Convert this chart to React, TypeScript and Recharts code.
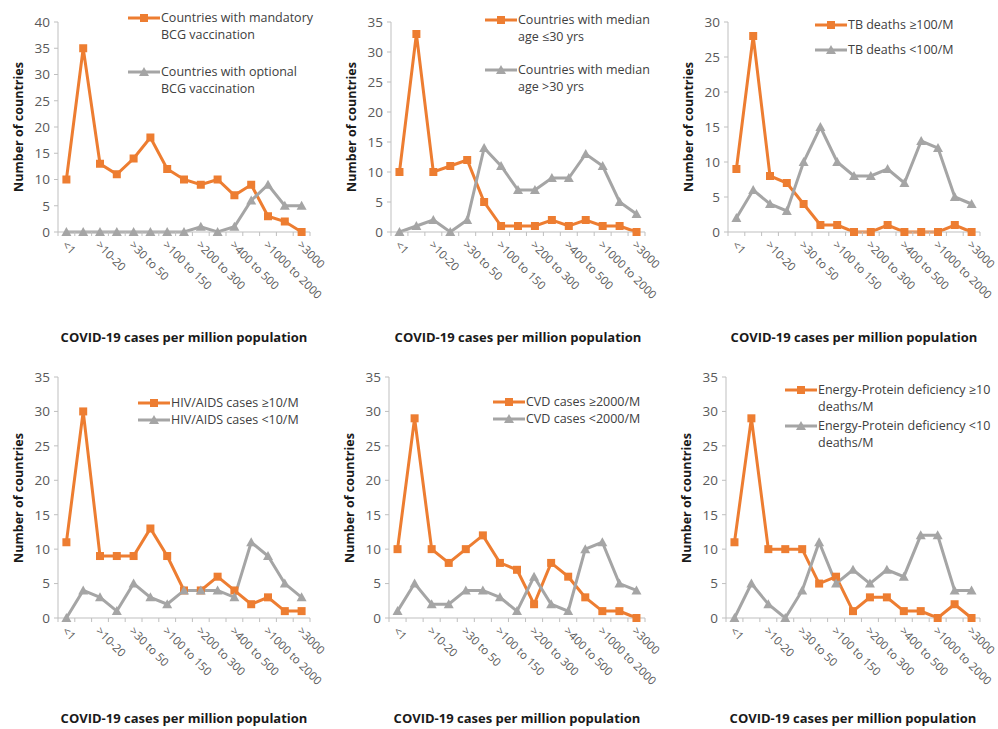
import { LineChart, Line, XAxis, YAxis } from "recharts";

const categories = [
  "<1", "1-10", ">10-20", ">20-30", ">30 to 50", ">50 to 100", ">100 to 150",
  ">150 to 200", ">200 to 300", ">300 to 400", ">400 to 500", ">500 to 1000",
  ">1000 to 2000", ">2000 to 3000", ">3000",
];

const bcgMandatory = [10, 35, 13, 11, 14, 18, 12, 10, 9, 10, 7, 9, 3, 2, 0];
const bcgOptional = [0, 0, 0, 0, 0, 0, 0, 0, 1, 0, 1, 6, 9, 5, 5];
const ageUnder30 = [10, 33, 10, 11, 12, 5, 1, 1, 1, 2, 1, 2, 1, 1, 0];
const ageOver30 = [0, 1, 2, 0, 2, 14, 11, 7, 7, 9, 9, 13, 11, 5, 3];
const tbHigh = [9, 28, 8, 7, 4, 1, 1, 0, 0, 1, 0, 0, 0, 1, 0];
const tbLow = [2, 6, 4, 3, 10, 15, 10, 8, 8, 9, 7, 13, 12, 5, 4];
const hivHigh = [11, 30, 9, 9, 9, 13, 9, 4, 4, 6, 4, 2, 3, 1, 1];
const hivLow = [0, 4, 3, 1, 5, 3, 2, 4, 4, 4, 3, 11, 9, 5, 3];
const cvdHigh = [10, 29, 10, 8, 10, 12, 8, 7, 2, 8, 6, 3, 1, 1, 0];
const cvdLow = [1, 5, 2, 2, 4, 4, 3, 1, 6, 2, 1, 10, 11, 5, 4];
const epdHigh = [11, 29, 10, 10, 10, 5, 6, 1, 3, 3, 1, 1, 0, 2, 0];
const epdLow = [0, 5, 2, 0, 4, 11, 5, 7, 5, 7, 6, 12, 12, 4, 4];

const ticks40 = [0, 5, 10, 15, 20, 25, 30, 35, 40];
const ticks35 = [0, 5, 10, 15, 20, 25, 30, 35];
const ticks30 = [0, 5, 10, 15, 20, 25, 30];

const ORANGE = "#ED7D31";
const GRAY = "#A5A5A5";
const AXIS = "#BFBFBF";
const FONT = "'Open Sans', sans-serif";
const X_TITLE = "COVID-19 cases per million population";
const Y_TITLE = "Number of countries";

type LegendItem = { y: number; lines: string[] };
type PanelCfg = {
  high: number[];
  low: number[];
  yMax: number;
  yTicks: number[];
  plotLeft: number;
  plotRight: number;
  plotTop: number;
  plotBottom: number;
  titleGap: number;
  legendX: number;
  legend: LegendItem[];
};

const panels: PanelCfg[] = [
  {
    high: bcgMandatory, low: bcgOptional, yMax: 40, yTicks: ticks40,
    plotLeft: 58, plotRight: 310, plotTop: 22, plotBottom: 232, titleGap: 105,
    legendX: 128,
    legend: [
      { y: 18, lines: ["Countries with mandatory", "BCG vaccination"] },
      { y: 72, lines: ["Countries with optional", "BCG vaccination"] },
    ],
  },
  {
    high: ageUnder30, low: ageOver30, yMax: 35, yTicks: ticks35,
    plotLeft: 391, plotRight: 645, plotTop: 22, plotBottom: 232, titleGap: 105,
    legendX: 485,
    legend: [
      { y: 20, lines: ["Countries with median", "age ≤30 yrs"] },
      { y: 70, lines: ["Countries with median", "age >30 yrs"] },
    ],
  },
  {
    high: tbHigh, low: tbLow, yMax: 30, yTicks: ticks30,
    plotLeft: 728, plotRight: 980, plotTop: 22, plotBottom: 232, titleGap: 105,
    legendX: 815,
    legend: [
      { y: 25, lines: ["TB deaths ≥100/M"] },
      { y: 50, lines: ["TB deaths <100/M"] },
    ],
  },
  {
    high: hivHigh, low: hivLow, yMax: 35, yTicks: ticks35,
    plotLeft: 58, plotRight: 310, plotTop: 377, plotBottom: 618, titleGap: 100,
    legendX: 138,
    legend: [
      { y: 403, lines: ["HIV/AIDS cases ≥10/M"] },
      { y: 420, lines: ["HIV/AIDS cases <10/M"] },
    ],
  },
  {
    high: cvdHigh, low: cvdLow, yMax: 35, yTicks: ticks35,
    plotLeft: 389, plotRight: 645, plotTop: 377, plotBottom: 618, titleGap: 100,
    legendX: 493,
    legend: [
      { y: 402, lines: ["CVD cases ≥2000/M"] },
      { y: 419, lines: ["CVD cases <2000/M"] },
    ],
  },
  {
    high: epdHigh, low: epdLow, yMax: 35, yTicks: ticks35,
    plotLeft: 726, plotRight: 980, plotTop: 377, plotBottom: 618, titleGap: 100,
    legendX: 785,
    legend: [
      { y: 390, lines: ["Energy-Protein deficiency ≥10", "deaths/M"] },
      { y: 426, lines: ["Energy-Protein deficiency <10", "deaths/M"] },
    ],
  },
];

function SquareDot(p: any) {
  if (p.cx == null || p.cy == null) return <g key={p.index} />;
  return <rect key={p.index} x={p.cx - 4} y={p.cy - 4} width={8} height={8} fill={ORANGE} />;
}

function TriangleDot(p: any) {
  if (p.cx == null || p.cy == null) return <g key={p.index} />;
  const { cx, cy } = p;
  return (
    <polygon
      key={p.index}
      points={`${cx},${cy - 5} ${cx + 5},${cy + 4} ${cx - 5},${cy + 4}`}
      fill={GRAY}
    />
  );
}

// category ticks: boundary marks between categories (Excel style), label on every other one
function XTick(p: any) {
  const { x, y, payload, index, pad, count } = p;
  const i = index ?? payload?.index ?? 0;
  return (
    <g>
      <line x1={x - pad} y1={y} x2={x - pad} y2={y + 4} stroke={AXIS} />
      {i === count - 1 && <line x1={x + pad} y1={y} x2={x + pad} y2={y + 4} stroke={AXIS} />}
      {i % 2 === 0 && (
        <g transform={`translate(${x - 2},${y + 11}) rotate(45)`}>
          <text x={0} y={0} dy="0.35em" textAnchor="start" fill="#595959" fontSize={11.5} fontFamily={FONT}>
            {payload.value}
          </text>
        </g>
      )}
    </g>
  );
}

function LegendMarker({ kind }: { kind: "square" | "triangle" }) {
  return (
    <svg width={32} height={12} style={{ position: "absolute", left: 0, top: -6 }}>
      {kind === "square" ? (
        <>
          <line x1={0} y1={6} x2={32} y2={6} stroke={ORANGE} strokeWidth={3} />
          <rect x={12} y={2} width={8} height={8} fill={ORANGE} />
        </>
      ) : (
        <>
          <line x1={0} y1={6} x2={32} y2={6} stroke={GRAY} strokeWidth={3} />
          <polygon points="16,1 21,10 11,10" fill={GRAY} />
        </>
      )}
    </svg>
  );
}

function Panel({ cfg }: { cfg: PanelCfg }) {
  const data = categories.map((c, i) => ({ cat: c, high: cfg.high[i], low: cfg.low[i] }));
  const wrapLeft = cfg.plotLeft - 58;
  const wrapTop = cfg.plotTop - 12;
  const rightRoom = 40;
  const width = cfg.plotRight - wrapLeft + rightRoom;
  const height = cfg.plotBottom - wrapTop + 100;
  const pad = (cfg.plotRight - cfg.plotLeft) / categories.length / 2;
  const midX = (cfg.plotLeft + cfg.plotRight) / 2;
  const midY = (cfg.plotTop + cfg.plotBottom) / 2;

  return (
    <>
      <div style={{ position: "absolute", left: wrapLeft, top: wrapTop }}>
        <LineChart width={width} height={height} data={data} margin={{ top: 12, right: rightRoom, left: 18, bottom: 0 }}>
          <XAxis
            dataKey="cat"
            interval={0}
            height={100}
            padding={{ left: pad, right: pad }}
            axisLine={{ stroke: AXIS }}
            tickLine={false}
            tickSize={0}
            tickMargin={0}
            tick={<XTick pad={pad} count={categories.length} />}
          />
          <YAxis
            width={40}
            domain={[0, cfg.yMax]}
            ticks={cfg.yTicks}
            axisLine={{ stroke: AXIS }}
            tickLine={{ stroke: AXIS }}
            tickSize={4}
            tickMargin={4}
            tick={{ fill: "#595959", fontSize: 13.5, fontFamily: FONT }}
          />
          <Line dataKey="high" stroke={ORANGE} strokeWidth={3} dot={SquareDot} isAnimationActive={false} />
          <Line dataKey="low" stroke={GRAY} strokeWidth={3} dot={TriangleDot} isAnimationActive={false} />
        </LineChart>
      </div>
      <div
        style={{
          position: "absolute", left: cfg.plotLeft - 40, top: midY,
          transform: "translate(-50%, -50%) rotate(-90deg)", whiteSpace: "nowrap",
          fontFamily: FONT, fontWeight: 700, fontSize: 12.5, color: "#1a1a1a",
        }}
      >
        {Y_TITLE}
      </div>
      <div
        style={{
          position: "absolute", left: midX, top: cfg.plotBottom + cfg.titleGap,
          transform: "translate(-50%, -50%)", whiteSpace: "nowrap",
          fontFamily: FONT, fontWeight: 700, fontSize: 13, color: "#1a1a1a",
        }}
      >
        {X_TITLE}
      </div>
      {cfg.legend.map((item, k) => (
        <div key={k} style={{ position: "absolute", left: cfg.legendX, top: item.y }}>
          <LegendMarker kind={k === 0 ? "square" : "triangle"} />
          {item.lines.map((ln, j) => (
            <div
              key={j}
              style={{
                position: "absolute", left: 33, top: j * 17 - 9, whiteSpace: "nowrap",
                fontFamily: FONT, fontSize: 12.5, lineHeight: "18px", color: "#404040",
              }}
            >
              {ln}
            </div>
          ))}
        </div>
      ))}
    </>
  );
}

export default function App() {
  return (
    <div style={{ position: "absolute", left: 0, top: 0, width: 998, height: 729, background: "#fff" }}>
      {panels.map((cfg, i) => (
        <Panel key={i} cfg={cfg} />
      ))}
    </div>
  );
}
